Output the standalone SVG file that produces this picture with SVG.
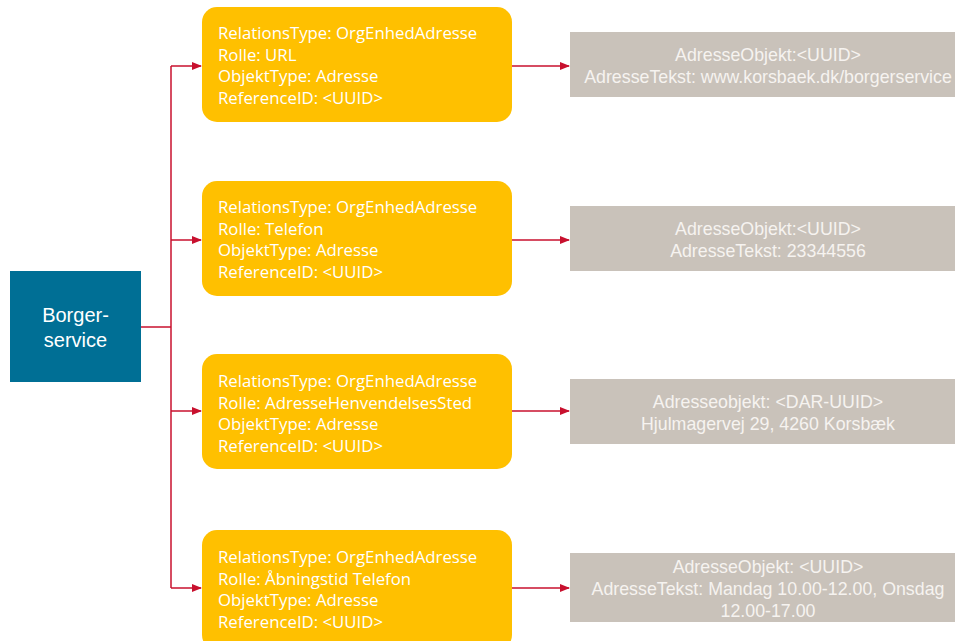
<svg xmlns="http://www.w3.org/2000/svg" width="955" height="641" viewBox="0 0 955 641">
<style>
.root{fill:#006F95}
.rel{fill:#FFC000}
.adr{fill:#C9C2BA}
.rt{font-family:"Open Sans","Noto Sans",sans-serif;font-size:16.8px;fill:#FFFFFF}
.at{font-family:"Liberation Sans",Arial,sans-serif;font-size:17.8px;fill:#F6F3F0;text-anchor:middle}
.bt{font-family:"Liberation Sans",Arial,sans-serif;font-size:20px;fill:#FFFFFF;text-anchor:middle}
.c{stroke:#C8102E;stroke-width:1.5;fill:none}
</style>
<defs>
<marker id="ah" markerWidth="10" markerHeight="8" refX="9" refY="4" orient="auto" markerUnits="userSpaceOnUse">
<path d="M0,0 L10,4 L0,8 Z" fill="#C8102E"/>
</marker>
</defs>
<rect width="955" height="641" fill="#FFFFFF"/>
<g id="connectors">
<path class="c" d="M141,327 H171"/>
<path class="c" d="M171,66 V588"/>
<path class="c" d="M171,66 H201" marker-end="url(#ah)"/>
<path class="c" d="M171,240 H201" marker-end="url(#ah)"/>
<path class="c" d="M171,411 H201" marker-end="url(#ah)"/>
<path class="c" d="M171,588 H201" marker-end="url(#ah)"/>
<path class="c" d="M512,66 H569" marker-end="url(#ah)"/>
<path class="c" d="M512,240 H569" marker-end="url(#ah)"/>
<path class="c" d="M512,411 H569" marker-end="url(#ah)"/>
<path class="c" d="M512,588 H569" marker-end="url(#ah)"/>
</g>
<g id="borgerservice">
<rect class="root" x="10" y="271" width="131" height="111"/>
<text class="bt" x="75.5" y="322">Borger-</text>
<text class="bt" x="75.5" y="347">service</text>
</g>
<g id="rel1">
<rect class="rel" x="202" y="7" width="310" height="115" rx="15"/>
<text class="rt" x="218" y="39">RelationsType: OrgEnhedAdresse</text>
<text class="rt" x="218" y="60.5">Rolle: URL</text>
<text class="rt" x="218" y="82">ObjektType: Adresse</text>
<text class="rt" x="218" y="103.5">ReferenceID: &lt;UUID&gt;</text>
</g>
<g id="rel2">
<rect class="rel" x="202" y="181" width="310" height="115" rx="15"/>
<text class="rt" x="218" y="213">RelationsType: OrgEnhedAdresse</text>
<text class="rt" x="218" y="234.5">Rolle: Telefon</text>
<text class="rt" x="218" y="256">ObjektType: Adresse</text>
<text class="rt" x="218" y="277.5">ReferenceID: &lt;UUID&gt;</text>
</g>
<g id="rel3">
<rect class="rel" x="202" y="354" width="310" height="115" rx="15"/>
<text class="rt" x="218" y="387">RelationsType: OrgEnhedAdresse</text>
<text class="rt" x="218" y="408.5">Rolle: AdresseHenvendelsesSted</text>
<text class="rt" x="218" y="430">ObjektType: Adresse</text>
<text class="rt" x="218" y="451.5">ReferenceID: &lt;UUID&gt;</text>
</g>
<g id="rel4">
<rect class="rel" x="202" y="530" width="310" height="120" rx="15"/>
<text class="rt" x="218" y="563">RelationsType: OrgEnhedAdresse</text>
<text class="rt" x="218" y="584.5">Rolle: Åbningstid Telefon</text>
<text class="rt" x="218" y="606">ObjektType: Adresse</text>
<text class="rt" x="218" y="627.5">ReferenceID: &lt;UUID&gt;</text>
</g>
<g id="adr1">
<rect class="adr" x="570" y="32" width="385" height="65"/>
<text class="at" x="768" y="61">AdresseObjekt:&lt;UUID&gt;</text>
<text class="at" x="768" y="83">AdresseTekst: www.korsbaek.dk/borgerservice</text>
</g>
<g id="adr2">
<rect class="adr" x="570" y="206" width="385" height="65"/>
<text class="at" x="768" y="235">AdresseObjekt:&lt;UUID&gt;</text>
<text class="at" x="768" y="257">AdresseTekst: 23344556</text>
</g>
<g id="adr3">
<rect class="adr" x="570" y="379" width="385" height="65"/>
<text class="at" x="768" y="408">Adresseobjekt: &lt;DAR-UUID&gt;</text>
<text class="at" x="768" y="430">Hjulmagervej 29, 4260 Korsbæk</text>
</g>
<g id="adr4">
<rect class="adr" x="570" y="553" width="385" height="69"/>
<text class="at" x="768" y="573">AdresseObjekt: &lt;UUID&gt;</text>
<text class="at" x="768" y="595">AdresseTekst: Mandag 10.00-12.00, Onsdag</text>
<text class="at" x="768" y="617">12.00-17.00</text>
</g>
</svg>
